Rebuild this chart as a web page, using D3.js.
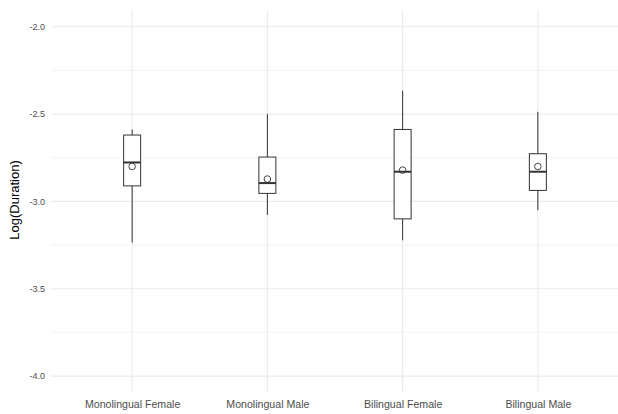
<!DOCTYPE html>
<html><head><meta charset="utf-8">
<script src="https://cdn.jsdelivr.net/npm/d3@7"></script>
<style>body{margin:0;background:#fff}svg{display:block}text{font-family:"Liberation Sans",Arial,sans-serif}</style>
</head><body>
<script>
const categories = ["Monolingual Female","Monolingual Male","Bilingual Female","Bilingual Male"];
const whiskerLow  = [-3.235, -3.078, -3.223, -3.050];
const q1          = [-2.911, -2.954, -3.100, -2.937];
const median      = [-2.777, -2.895, -2.830, -2.830];
const q3          = [-2.620, -2.746, -2.588, -2.727];
const whiskerHigh = [-2.588, -2.500, -2.366, -2.487];
const means       = [-2.800, -2.872, -2.821, -2.800];
const yTicks = [-4.0, -3.5, -3.0, -2.5, -2.0];
const yMinor = [-3.75, -3.25, -2.75, -2.25];

(function () {
const W = 618, H = 414;
const svg = d3.select("body").append("svg").attr("width", W).attr("height", H);
const pL = 51, pR = 619, pT = 10, pB = 393;

const y = d3.scaleLinear().domain([-4.097, -1.904]).range([pB, pT]);
const x = d3.scalePoint().domain(categories).range([pL, pR]).padding(0.6);

// grid
const g = svg.append("g");
g.selectAll(".minor").data(yMinor).join("line")
  .attr("x1", pL).attr("x2", pR).attr("y1", d => y(d)).attr("y2", d => y(d))
  .attr("stroke", "#ebebeb").attr("stroke-width", 0.6);
g.selectAll(".major").data(yTicks).join("line")
  .attr("x1", pL).attr("x2", pR).attr("y1", d => y(d)).attr("y2", d => y(d))
  .attr("stroke", "#ebebeb").attr("stroke-width", 1.2);
g.selectAll(".vmajor").data(categories).join("line")
  .attr("x1", d => x(d)).attr("x2", d => x(d)).attr("y1", pT).attr("y2", pB)
  .attr("stroke", "#ebebeb").attr("stroke-width", 1.2);

// y axis labels
svg.append("g").attr("transform", `translate(45,0)`)
  .call(d3.axisLeft(y).tickValues(yTicks).tickSize(0).tickPadding(0))
  .call(a => a.select(".domain").remove())
  .call(a => a.selectAll("text").attr("fill", "#4d4d4d").style("font-size", "9px")
     .style("font-family", '"Liberation Sans",Arial,sans-serif').text(d => d.toFixed(1)));

// x axis labels
svg.append("g").attr("transform", `translate(0,408)`)
  .call(d3.axisBottom(x).tickSize(0).tickPadding(0))
  .call(a => a.select(".domain").remove())
  .call(a => a.selectAll("text").attr("dy", 0).attr("fill", "#4d4d4d").style("font-size", "10.6px")
     .style("font-family", '"Liberation Sans",Arial,sans-serif'));

// y title
svg.append("text").attr("transform", `translate(19,200) rotate(-90)`)
  .attr("text-anchor", "middle").attr("font-size", "13px").attr("fill", "#000").text("Log(Duration)");

// boxes
const bw = 17;
const stroke = "#333";
const idx = d3.range(categories.length);
const b = svg.append("g");
b.selectAll(".wl").data(idx).join("line")
  .attr("x1", i => x(categories[i])).attr("x2", i => x(categories[i]))
  .attr("y1", i => y(whiskerLow[i])).attr("y2", i => y(q1[i]))
  .attr("stroke", stroke).attr("stroke-width", 1);
b.selectAll(".wh").data(idx).join("line")
  .attr("x1", i => x(categories[i])).attr("x2", i => x(categories[i]))
  .attr("y1", i => y(whiskerHigh[i])).attr("y2", i => y(q3[i]))
  .attr("stroke", stroke).attr("stroke-width", 1);
b.selectAll(".box").data(idx).join("rect")
  .attr("x", i => x(categories[i]) - bw/2).attr("width", bw)
  .attr("y", i => y(q3[i])).attr("height", i => y(q1[i]) - y(q3[i]))
  .attr("fill", "#fff").attr("stroke", stroke).attr("stroke-width", 1);
b.selectAll(".med").data(idx).join("line")
  .attr("x1", i => x(categories[i]) - bw/2).attr("x2", i => x(categories[i]) + bw/2)
  .attr("y1", i => y(median[i])).attr("y2", i => y(median[i]))
  .attr("stroke", stroke).attr("stroke-width", 2);
b.selectAll(".mean").data(idx).join("circle")
  .attr("cx", i => x(categories[i])).attr("cy", i => y(means[i])).attr("r", 3.3)
  .attr("fill", "none").attr("stroke", stroke).attr("stroke-width", 0.9);
})();
</script>
</body></html>
